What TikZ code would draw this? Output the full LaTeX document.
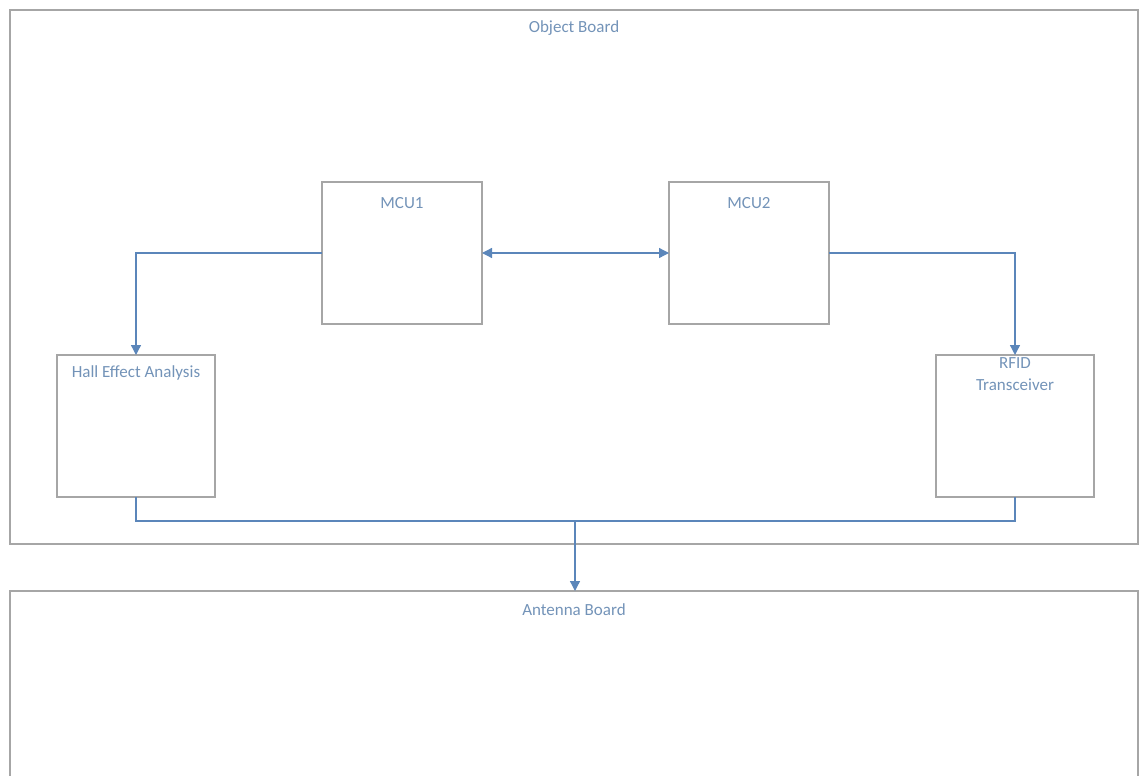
\documentclass[tikz,border=0pt]{standalone}
\usepackage{fontspec}
\newfontfamily\boardfont{Carlito}
\usepackage{tikz}
\usetikzlibrary{
  arrows.meta,
  positioning
}
\definecolor{boxgray}{HTML}{A6A6A6}
\definecolor{linkblue}{HTML}{5B86BA}
\definecolor{textblue}{HTML}{7393B8}

\begin{document}
\begin{tikzpicture}[
  x=1pt, y=-1pt,
  board/.style={draw=boxgray, line width=1.1pt, inner sep=0pt, outer sep=0pt,
                minimum width=#1},
  block/.style={draw=boxgray, line width=1.1pt, inner sep=0pt, outer sep=0pt,
                minimum width=#1, minimum height=142pt},
  title/.style={font=\boardfont\fontsize{17}{22}\selectfont, text=textblue, align=center},
  link/.style={draw=linkblue, line width=1.3pt},
  arrow/.style={link, -{Triangle[length=10pt,width=10pt]}},
]
  \useasboundingbox (0,0) rectangle (1140,776);

  % boards
  \node[board=1128pt, minimum height=534pt] (objboard) at (574,277) {};
  \node[board=1128pt, minimum height=189pt] (antboard) at (574,685.5) {};
  \node[title] (objtitle) at ([yshift=-18pt]objboard.north) {Object Board};
  \node[title] (anttitle) at ([yshift=-19pt]antboard.north) {Antenna Board};

  % blocks on the object board
  \node[block=160pt] (mcu1) at (402,253) {};
  \node[block=160pt] (mcu2) at (749,253) {};
  \node[block=158pt] (hall) at (136,426) {};
  \node[block=158pt] (rfid) at (1015,426) {};
  \node[title] (mcu1title) at ([yshift=-21pt]mcu1.north) {MCU1};
  \node[title] (mcu2title) at ([yshift=-21pt]mcu2.north) {MCU2};
  \node[title] (halltitle) at ([yshift=-18pt]hall.north) {Hall Effect Analysis};
  \node[title] (rfidtitle) at ([yshift=-19pt]rfid.north) {RFID\\Transceiver};

  % connections
  \draw[arrow] (mcu1.west) -| (hall.north);
  \draw[arrow, {Triangle[length=10pt,width=10pt]}-{Triangle[length=10pt,width=10pt]}] (mcu1.east) -- (mcu2.west);
  \draw[arrow] (mcu2.east) -| (rfid.north);

  \coordinate (bus) at (575,521);
  \draw[link] (hall.south) |- (bus) -| (rfid.south);
  \draw[arrow] (bus) -- (bus |- antboard.north);
\end{tikzpicture}
\end{document}
